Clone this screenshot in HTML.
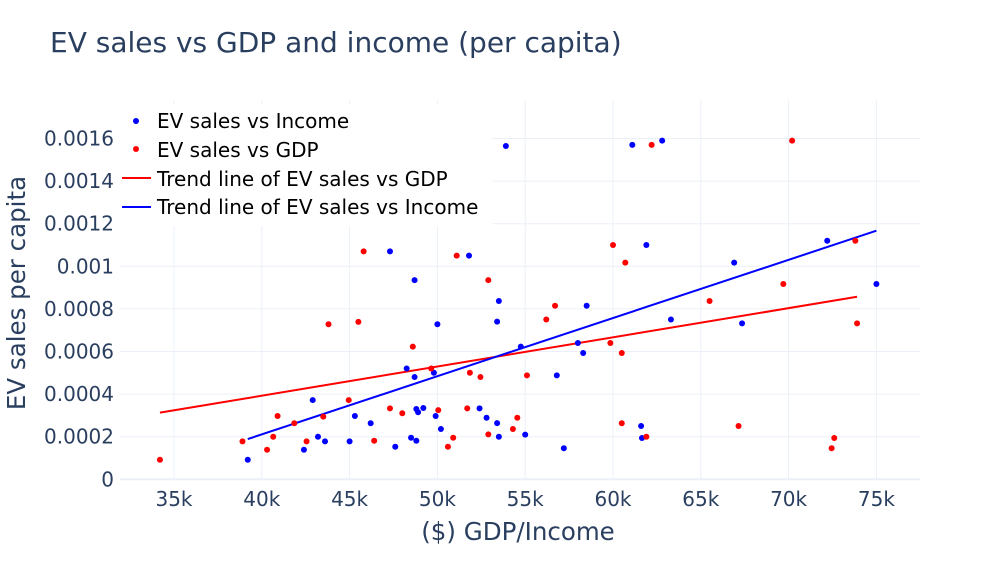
<!DOCTYPE html>
<html><head><meta charset="utf-8"><style>
body{margin:0;background:#fff;}
svg text{font-family:"DejaVu Sans","Liberation Sans",sans-serif;}
</style></head><body>
<svg id="chart" width="1000" height="562" xmlns="http://www.w3.org/2000/svg">
<rect width="1000" height="562" fill="#fff"/>
<text x="50" y="52" font-size="28" fill="#2a3f5f">EV sales vs GDP and income (per capita)</text>
<g id="grid"></g>
<g id="ticks"></g>
<g id="marks"></g>
<text x="518" y="540" font-size="24.5" fill="#2a3f5f" text-anchor="middle">($) GDP/Income</text>
<text transform="translate(25,293) rotate(-90)" font-size="24.5" fill="#2a3f5f" text-anchor="middle">EV sales per capita</text>
<g>
<rect x="120" y="104" width="372" height="122" fill="#fff"/>
<circle cx="136" cy="121" r="3" fill="#0000ff"/>
<text x="157" y="128" font-size="20" fill="#000">EV sales vs Income</text>
<circle cx="136" cy="149" r="3" fill="#ff0000"/>
<text x="157" y="157" font-size="20" fill="#000">EV sales vs GDP</text>
<line x1="122" y1="178" x2="151" y2="178" stroke="#ff0000" stroke-width="2"/>
<text x="157" y="186" font-size="20" fill="#000">Trend line of EV sales vs GDP</text>
<line x1="122" y1="207" x2="151" y2="207" stroke="#0000ff" stroke-width="2"/>
<text x="157" y="214" font-size="20" fill="#000">Trend line of EV sales vs Income</text>
</g>
</svg>
<script>
const xTicks=[35,40,45,50,55,60,65,70,75];
const xTickLabels=["35k","40k","45k","50k","55k","60k","65k","70k","75k"];
const yTicks=[0,0.0002,0.0004,0.0006,0.0008,0.001,0.0012,0.0014,0.0016];
const yTickLabels=["0","0.0002","0.0004","0.0006","0.0008","0.001","0.0012","0.0014","0.0016"];
const incomeX=[39.2,42.4,42.9,43.2,43.6,45.0,45.3,46.2,47.3,47.6,48.25,48.5,48.7,48.7,48.8,48.9,49.2,48.8,49.9,49.8,50.0,50.2,51.8,52.4,52.8,53.4,53.5,53.5,53.4,53.9,55.0,54.75,57.2,56.8,58.0,58.3,58.5,61.1,61.6,61.65,61.9,62.8,63.3,66.9,67.35,72.2,75.0];
const incomeY=[0.000092,0.000139,0.000372,0.0002,0.000178,0.000178,0.000297,0.000263,0.00107,0.000153,0.00052,0.000195,0.000935,0.00048,0.00033,0.000315,0.000335,0.000181,0.000297,0.0005,0.000728,0.000236,0.00105,0.000333,0.000289,0.000264,0.0002,0.000837,0.00074,0.001565,0.00021,0.000623,0.000146,0.000488,0.00064,0.000593,0.000815,0.00157,0.00025,0.000194,0.0011,0.00159,0.00075,0.001017,0.000732,0.00112,0.000917];
const gdpX=[34.2,38.9,40.3,40.65,40.9,41.85,42.55,43.5,43.8,44.95,45.5,45.8,46.4,47.3,48.0,48.6,49.65,50.05,50.6,50.9,51.1,51.85,51.7,52.45,52.9,52.9,54.3,54.55,55.1,56.2,56.7,59.85,60.0,60.5,60.5,60.7,61.9,62.2,65.5,67.15,69.7,70.2,72.45,72.6,73.8,73.9];
const gdpY=[0.000092,0.000178,0.000139,0.0002,0.000297,0.000263,0.000178,0.000294,0.000728,0.000372,0.000739,0.00107,0.000181,0.000333,0.00031,0.000623,0.00052,0.000325,0.000153,0.000195,0.00105,0.0005,0.000333,0.00048,0.000935,0.000211,0.000236,0.000289,0.000488,0.00075,0.000815,0.00064,0.0011,0.000593,0.000263,0.001017,0.0002,0.00157,0.000837,0.00025,0.000917,0.00159,0.000146,0.000194,0.00112,0.000732];
const gdpTrendX=[34.2,73.9];
const gdpTrendY=[0.000313,0.000857];
const incomeTrendX=[39.2,75.0];
const incomeTrendY=[0.000189,0.001167];

const NS="http://www.w3.org/2000/svg";
function sx(v){return 174+(v-35)*17.56;}
function sy(v){return 479.3-v/0.0002*42.6;}
function mk(tag,attrs,parent){const e=document.createElementNS(NS,tag);for(const k in attrs)e.setAttribute(k,attrs[k]);parent.appendChild(e);return e;}
const grid=document.getElementById('grid'),ticks=document.getElementById('ticks'),marks=document.getElementById('marks');
xTicks.forEach((t,i)=>{
  const l=mk('line',{x1:sx(t),x2:sx(t),y1:100,y2:479,stroke:'#ebf0f8','stroke-width':1},grid);
  
  
  const tx=mk('text',{x:sx(t),y:506,'font-size':20,fill:'#2a3f5f','text-anchor':'middle'},ticks);
  tx.textContent=xTickLabels[i];
  
  
});
yTicks.forEach((t,i)=>{
  const l=mk('line',{x1:120,x2:920,y1:sy(t),y2:sy(t),stroke:'#ebf0f8','stroke-width':t===0?2:1},grid);
  
  
  const tx=mk('text',{x:114,y:sy(t)+7,'font-size':20,fill:'#2a3f5f','text-anchor':'end'},ticks);
  tx.textContent=yTickLabels[i];
  
  
});
const tg=mk('line',{x1:sx(gdpTrendX[0]),y1:sy(gdpTrendY[0]),x2:sx(gdpTrendX[1]),y2:sy(gdpTrendY[1]),stroke:'#ff0000','stroke-width':2},marks);


const ti=mk('line',{x1:sx(incomeTrendX[0]),y1:sy(incomeTrendY[0]),x2:sx(incomeTrendX[1]),y2:sy(incomeTrendY[1]),stroke:'#0000ff','stroke-width':2},marks);


incomeX.forEach((x,i)=>{
  const c=mk('circle',{cx:sx(x),cy:sy(incomeY[i]),r:3,fill:'#0000ff'},marks);
  
  
});
gdpX.forEach((x,i)=>{
  const c=mk('circle',{cx:sx(x),cy:sy(gdpY[i]),r:3,fill:'#ff0000'},marks);
  
  
});
</script>
</body></html>
